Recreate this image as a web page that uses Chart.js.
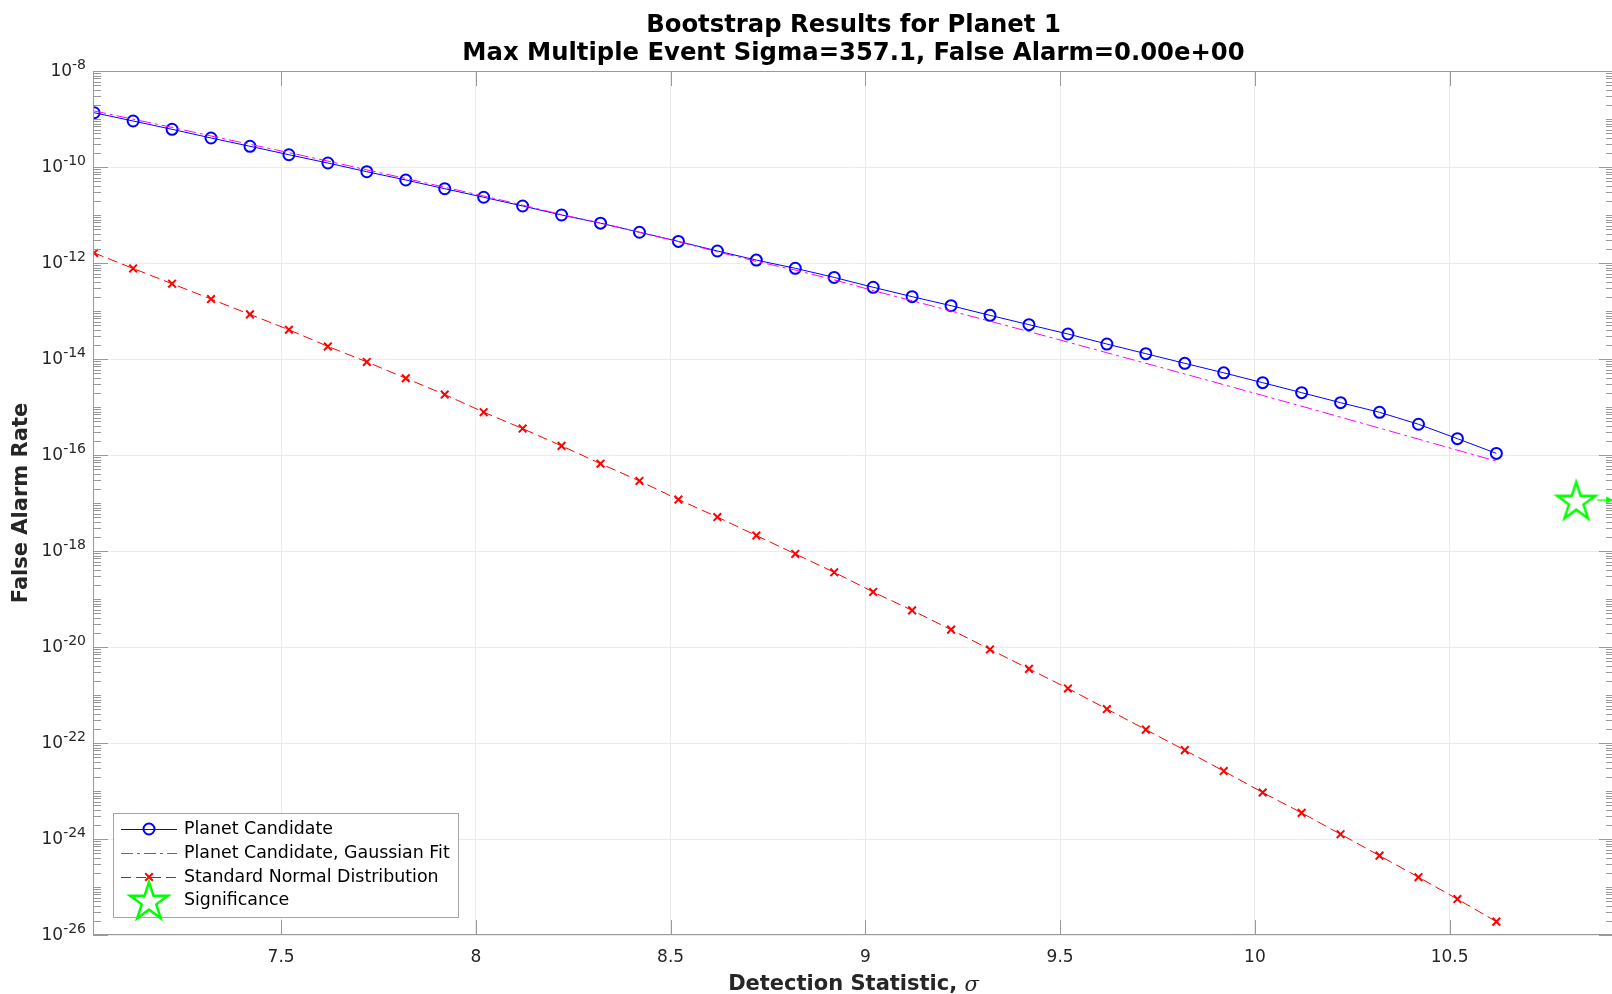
<!DOCTYPE html>
<html>
<head>
<meta charset="utf-8">
<script src="https://cdn.jsdelivr.net/npm/chart.js@4/dist/chart.umd.min.js"></script>
<style>
  html, body { margin: 0; padding: 0; background: #fff; overflow: hidden; }
  #wrap { width: 1612px; height: 994px; overflow: hidden; }
  canvas { display: block; }
</style>
</head>
<body>
<div id="wrap"><canvas id="chart" width="1635" height="994"></canvas></div>
<script>
// ==================================================================
//
// Data
//
// ==================================================================

const xValues = [7.02, 7.12, 7.22, 7.32, 7.42, 7.52, 7.62, 7.72, 7.82, 7.92,
  8.02, 8.12, 8.22, 8.32, 8.42, 8.52, 8.62, 8.72, 8.82, 8.92,
  9.02, 9.12, 9.22, 9.32, 9.42, 9.52, 9.62, 9.72, 9.82, 9.92,
  10.02, 10.12, 10.22, 10.32, 10.42, 10.52, 10.62];

const candidateRate = [1.35e-9, 9.08e-10, 6.10e-10, 4.02e-10, 2.70e-10, 1.80e-10, 1.21e-10, 7.98e-11, 5.36e-11, 3.53e-11,
  2.34e-11, 1.54e-11, 1.0e-11, 6.76e-12, 4.37e-12, 2.82e-12, 1.78e-12, 1.15e-12, 7.76e-13, 5.01e-13,
  3.12e-13, 1.99e-13, 1.29e-13, 8.13e-14, 5.19e-14, 3.32e-14, 2.05e-14, 1.29e-14, 8.13e-15, 5.15e-15,
  3.21e-15, 1.99e-15, 1.23e-15, 7.76e-16, 4.37e-16, 2.19e-16, 1.08e-16];

const gaussianFitRate = [1.47e-9, 9.90e-10, 6.68e-10, 4.43e-10, 2.97e-10, 1.99e-10, 1.33e-10, 8.70e-11, 5.78e-11, 3.79e-11,
  2.49e-11, 1.61e-11, 1.02e-11, 6.82e-12, 4.37e-12, 2.78e-12, 1.71e-12, 1.08e-12, 7.12e-13, 4.45e-13,
  2.66e-13, 1.64e-13, 1.0e-13, 6.13e-14, 3.72e-14, 2.25e-14, 1.35e-14, 8.13e-15, 4.87e-15, 2.92e-15,
  1.74e-15, 1.04e-15, 6.13e-16, 3.63e-16, 2.14e-16, 1.26e-16, 7.46e-17];

const normalRate = [1.62e-12, 7.7e-13, 3.7e-13, 1.77e-13, 8.5e-14, 4.07e-14, 1.83e-14, 8.7e-15, 3.97e-15, 1.82e-15,
  7.8e-16, 3.55e-16, 1.55e-16, 6.6e-17, 2.88e-17, 1.18e-17, 5.1e-18, 2.1e-18, 8.7e-19, 3.6e-19,
  1.4e-19, 5.8e-20, 2.3e-20, 8.9e-21, 3.5e-21, 1.37e-21, 5.1e-22, 1.9e-22, 7.1e-23, 2.6e-23,
  9.3e-24, 3.5e-24, 1.26e-24, 4.5e-25, 1.6e-25, 5.6e-26, 1.9e-26];

const significanceSigma = [10.825];
const significanceRate = [1.15e-17];

const xTickValues = [7.5, 8, 8.5, 9, 9.5, 10, 10.5];
const xTickLabels = ["7.5", "8", "8.5", "9", "9.5", "10", "10.5"];
const yTickExponents = [-26, -24, -22, -20, -18, -16, -14, -12, -10, -8];

const titleLines = ["Bootstrap Results for Planet 1", "Max Multiple Event Sigma=357.1, False Alarm=0.00e+00"];
const legendLabels = ["Planet Candidate", "Planet Candidate, Gaussian Fit", "Standard Normal Distribution", "Significance"];

// ==================================================================
//
// Helpers
//
// ==================================================================

const FONT = "'DejaVu Sans', sans-serif";
const AXIS_COLOR = "#999999";
const TEXT_COLOR = "#262626";

const toPoints = (xs, ys) => xs.map((x, i) => ({ x: x, y: ys[i] }));

// pentagram outline, drawn on a small canvas so it can be used as pointStyle
const makeStar = (outer) => {
  const size = Math.ceil(outer * 2 + 6);
  const c = document.createElement("canvas");
  c.width = size;
  c.height = size;
  const g = c.getContext("2d");
  const inner = outer * 0.382;
  const cx = size / 2, cy = size / 2 + outer * 0.1;
  g.beginPath();
  for (let i = 0; i < 10; i++) {
    const r = i % 2 === 0 ? outer : inner;
    const a = -Math.PI / 2 + (i * Math.PI) / 5;
    const px = cx + r * Math.cos(a), py = cy + r * Math.sin(a);
    if (i === 0) g.moveTo(px, py); else g.lineTo(px, py);
  }
  g.closePath();
  g.lineWidth = 2.5;
  g.lineJoin = "miter";
  g.strokeStyle = "#00ff00";
  g.stroke();
  return c;
};
const starImage = makeStar(20);

const drawMarker = (ctx, style, x, y) => {
  ctx.save();
  ctx.lineWidth = 2;
  if (style === "circle") {
    ctx.strokeStyle = "#0000ff";
    ctx.beginPath();
    ctx.arc(x, y, 5.5, 0, Math.PI * 2);
    ctx.stroke();
  } else if (style === "x") {
    ctx.strokeStyle = "#ff0000";
    ctx.beginPath();
    ctx.moveTo(x - 3.8, y - 3.8); ctx.lineTo(x + 3.8, y + 3.8);
    ctx.moveTo(x + 3.8, y - 3.8); ctx.lineTo(x - 3.8, y + 3.8);
    ctx.stroke();
  } else if (style === "star") {
    ctx.drawImage(starImage, x - starImage.width / 2, y - starImage.height / 2);
  }
  ctx.restore();
};

// ==================================================================
//
// Plugin for the MATLAB style box, ticks, labels and legend
//
// ==================================================================

const matlabDecor = {
  id: "matlabDecor",
  afterDraw(chart) {
    const ctx = chart.ctx;
    const area = chart.chartArea;
    const xs = chart.scales.x;
    const ys = chart.scales.y;

    ctx.save();

    // box
    ctx.strokeStyle = AXIS_COLOR;
    ctx.lineWidth = 1;
    ctx.strokeRect(area.left + 0.5, area.top + 0.5, area.right - area.left - 1, area.bottom - area.top - 1);

    // x ticks, inward top and bottom
    ctx.beginPath();
    xTickValues.forEach((v) => {
      const px = Math.round(xs.getPixelForValue(v)) + 0.5;
      ctx.moveTo(px, area.bottom); ctx.lineTo(px, area.bottom - 15);
      ctx.moveTo(px, area.top); ctx.lineTo(px, area.top + 15);
    });
    // y major and minor ticks
    for (let e = -26; e <= -8; e++) {
      const major = yTickExponents.includes(e);
      const py = Math.round(ys.getPixelForValue(Math.pow(10, e))) + 0.5;
      const len = major ? 15 : 8;
      ctx.moveTo(area.left, py); ctx.lineTo(area.left + len, py);
      ctx.moveTo(area.right, py); ctx.lineTo(area.right - len, py);
      if (e < -8) {
        for (let k = 2; k <= 9; k++) {
          const pm = Math.round(ys.getPixelForValue(k * Math.pow(10, e))) + 0.5;
          ctx.moveTo(area.left, pm); ctx.lineTo(area.left + 8, pm);
          ctx.moveTo(area.right, pm); ctx.lineTo(area.right - 8, pm);
        }
      }
    }
    ctx.stroke();

    // x tick labels
    ctx.fillStyle = TEXT_COLOR;
    ctx.font = "17px " + FONT;
    ctx.textAlign = "center";
    ctx.textBaseline = "middle";
    xTickValues.forEach((v, i) => {
      ctx.fillText(xTickLabels[i], xs.getPixelForValue(v), 958);
    });

    // y tick labels with superscript exponents
    yTickExponents.forEach((e) => {
      const py = ys.getPixelForValue(Math.pow(10, e));
      ctx.font = "14px " + FONT;
      const expText = String(e);
      const expW = ctx.measureText(expText).width;
      ctx.textAlign = "left";
      ctx.fillText(expText, 86 - expW, py - 6);
      ctx.font = "17px " + FONT;
      ctx.textAlign = "right";
      ctx.fillText("10", 86 - expW, py + 1);
    });

    // titles
    const midX = (area.left + area.right) / 2;
    ctx.fillStyle = "#000000";
    ctx.textAlign = "center";
    ctx.font = "bold 24.3px " + FONT;
    ctx.fillText(titleLines[0], midX, 25.5);
    ctx.fillText(titleLines[1], midX, 53.5);

    // y axis title
    ctx.fillStyle = TEXT_COLOR;
    ctx.save();
    ctx.translate(22, (area.top + area.bottom) / 2);
    ctx.rotate(-Math.PI / 2);
    ctx.font = "bold 21px " + FONT;
    ctx.fillText("False Alarm Rate", 0, 0);
    ctx.restore();

    // x axis title, sigma in italic
    const boldPart = "Detection Statistic, ";
    ctx.font = "bold 21px " + FONT;
    const wBold = ctx.measureText(boldPart).width;
    ctx.font = "italic 21px 'DejaVu Serif', serif";
    const wSig = ctx.measureText("σ").width;
    const tx = midX - (wBold + wSig) / 2;
    ctx.textAlign = "left";
    ctx.font = "bold 21px " + FONT;
    ctx.fillText(boldPart, tx, 985);
    ctx.font = "italic 21px 'DejaVu Serif', serif";
    ctx.fillText("σ", tx + wBold, 986);

    // arrow to the right of the significance star
    const sy = ys.getPixelForValue(significanceRate[0]);
    const sx = xs.getPixelForValue(significanceSigma[0]);
    ctx.strokeStyle = "#00ff00";
    ctx.fillStyle = "#00ff00";
    ctx.lineWidth = 1.2;
    ctx.beginPath();
    ctx.moveTo(sx + 21, sy); ctx.lineTo(sx + 34, sy);
    ctx.stroke();
    ctx.beginPath();
    ctx.moveTo(sx + 37, sy); ctx.lineTo(sx + 30, sy - 3.5); ctx.lineTo(sx + 30, sy + 3.5);
    ctx.closePath();
    ctx.fill();

    // legend
    const lx = 113, ly = 813, lw = 345, lh = 104;
    ctx.fillStyle = "#ffffff";
    ctx.fillRect(lx, ly, lw, lh);
    ctx.strokeStyle = "#a6a6a6";
    ctx.lineWidth = 1;
    ctx.strokeRect(lx + 0.5, ly + 0.5, lw, lh);
    const rows = [829, 853, 877, 900];
    const styles = [
      { color: "#0000ff", dash: [], marker: "circle" },
      { color: "#ff00ff", dash: [12, 4, 3, 4], marker: null },
      { color: "#ff0000", dash: [10, 5], marker: "x" },
      { color: null, dash: [], marker: "star" },
    ];
    styles.forEach((s, i) => {
      const y = rows[i];
      if (s.color) {
        ctx.save();
        ctx.strokeStyle = s.color;
        ctx.lineWidth = 1;
        ctx.setLineDash(s.dash);
        ctx.beginPath();
        ctx.moveTo(121, y + 0.5); ctx.lineTo(177, y + 0.5);
        ctx.stroke();
        ctx.restore();
      }
      if (s.marker) drawMarker(ctx, s.marker, 149, y);
      ctx.fillStyle = "#000000";
      ctx.font = "17.4px " + FONT;
      ctx.textAlign = "left";
      ctx.textBaseline = "middle";
      ctx.fillText(legendLabels[i], 184, y);
    });

    ctx.restore();
  },
};

// ==================================================================
//
// Chart
//
// ==================================================================

let ctxChart = document.getElementById("chart").getContext("2d");

let bootstrapChart = new Chart(ctxChart, {
  type: "line",
  data: {
    datasets: [
      {
        label: legendLabels[0],
        data: toPoints(xValues, candidateRate),
        borderColor: "#0000ff",
        borderWidth: 1,
        pointStyle: "circle",
        pointRadius: 5.5,
        pointBorderWidth: 2,
        pointBorderColor: "#0000ff",
        pointBackgroundColor: "rgba(0,0,0,0)",
        tension: 0,
        order: 4,
      },
      {
        label: legendLabels[1],
        data: toPoints(xValues, gaussianFitRate),
        borderColor: "#ff00ff",
        borderWidth: 1,
        borderDash: [12, 4, 3, 4],
        pointRadius: 0,
        tension: 0,
        order: 3,
      },
      {
        label: legendLabels[2],
        data: toPoints(xValues, normalRate),
        borderColor: "#ff0000",
        borderWidth: 1,
        borderDash: [10, 5],
        pointStyle: "crossRot",
        pointRadius: 5.4,
        pointBorderWidth: 2,
        pointBorderColor: "#ff0000",
        tension: 0,
        order: 2,
      },
      {
        label: legendLabels[3],
        data: toPoints(significanceSigma, significanceRate),
        showLine: false,
        pointStyle: starImage,
        pointRadius: 20,
        order: 1,
      },
    ],
  },
  options: {
    responsive: false,
    animation: false,
    devicePixelRatio: 1,
    // right side: the point overflow of the star (21px) sets the minimum padding
    layout: { padding: { left: 93, top: 71, right: 21, bottom: 59 } },
    plugins: {
      legend: { display: false },
      title: { display: false },
      tooltip: { enabled: false },
    },
    scales: {
      x: {
        type: "linear",
        min: 7.017,
        max: 10.922,
        border: { display: false },
        grid: { color: "#ebebeb", drawTicks: false },
        ticks: { display: false },
        afterBuildTicks: (s) => {
          s.ticks = xTickValues.map((v) => ({ value: v }));
        },
        afterFit: (s) => {
          s.height = 0;
        },
      },
      y: {
        type: "logarithmic",
        min: 1e-26,
        max: 1e-8,
        border: { display: false },
        grid: { color: "#ebebeb", drawTicks: false },
        ticks: { display: false },
        afterBuildTicks: (s) => {
          s.ticks = yTickExponents.map((e) => ({ value: Math.pow(10, e) }));
        },
        afterFit: (s) => {
          s.width = 0;
        },
      },
    },
  },
  plugins: [matlabDecor],
});
</script>
</body>
</html>
